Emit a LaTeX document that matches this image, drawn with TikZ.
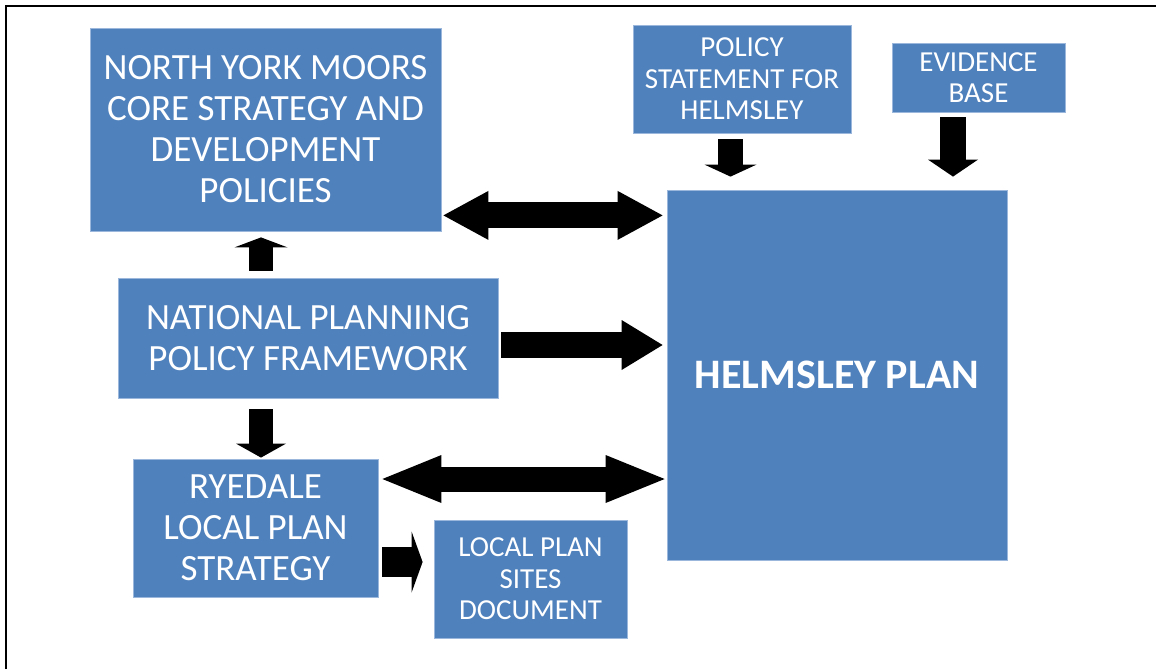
\documentclass[tikz,border=0pt]{standalone}
\usepackage{fontspec}
\setmainfont{Carlito}
\usetikzlibrary{arrows.meta,calc}
\definecolor{boxblue}{HTML}{4F81BD}
\definecolor{boxedge}{HTML}{9BB7DB}
\tikzset{
  blk/.style n args={3}{line width=#1, -{Triangle[length=#2,width=#3,line width=0pt]}}, % block arrow
  dbl/.style n args={3}{line width=#1, {Triangle[length=#2,width=#3,line width=0pt]}-{Triangle[length=#2,width=#3,line width=0pt]}} % double block arrow
}
\begin{document}
\begin{tikzpicture}[x=1pt,y=-1pt] % 1px = 1pt, y down
\tikzstyle{plan} = [rectangle, fill=boxblue, draw=boxedge, line width=0.8pt, text=white, align=center, inner sep=0pt] % document box
\tikzstyle{big} = [font=\fontsize{37}{41}\selectfont]
\tikzstyle{small} = [font=\fontsize{29}{31.5}\selectfont]

\useasboundingbox (0,0) rectangle (1156,669);
\draw[line width=2pt] (6,669) -- (6,6) -- (1156,6); % frame

\node[plan, big, minimum width=351, minimum height=203] (nym) at (265.5,129.5) {NORTH YORK MOORS\\CORE STRATEGY AND\\DEVELOPMENT\\POLICIES};
\node[plan, small, minimum width=218, minimum height=108] (pol) at (742,79) {POLICY\\STATEMENT FOR\\HELMSLEY};
\node[plan, small, minimum width=173, minimum height=69] (evid) at (978.5,77.5) {EVIDENCE\\BASE};
\node[plan, minimum width=340, minimum height=370, font=\fontsize{42}{48}\selectfont\bfseries] (helm) at (837,375) {HELMSLEY PLAN};
\node[plan, big, minimum width=380, minimum height=120] (nppf) at (308,338) {NATIONAL PLANNING\\POLICY FRAMEWORK};
\node[plan, big, minimum width=245, minimum height=138] (rye) at (255.5,528) {RYEDALE\\LOCAL PLAN\\STRATEGY};
\node[plan, small, minimum width=193, minimum height=118] (lps) at (530.5,579) {LOCAL PLAN\\SITES\\DOCUMENT};

\draw[dbl={26pt}{45pt}{49pt}] ($(nym.south east)+(2,-16)$) -- ($(nym.south east -| helm.west)+(-4,-16)$);
\draw[blk={26pt}{41pt}{50pt}] ($(nppf.east)+(3,7)$) -- ($(nppf.east -| helm.west)+(-4,7)$);
\draw[blk={24pt}{10pt}{53pt}] ($(nppf.north)+(-47,-7)$) -- ($(nppf.north |- nym.south)+(-47,6)$);
\draw[blk={24pt}{14pt}{50pt}] ($(nppf.south)+(-47,11)$) -- ($(nppf.south |- rye.north)+(-47,-1)$);
\draw[blk={25pt}{12pt}{52pt}] ($(pol.south)+(-11.5,6)$) -- ($(pol.south |- helm.north)+(-11.5,-13)$);
\draw[blk={26pt}{17pt}{50pt}] ($(evid.south)+(-25.5,5)$) -- ($(evid.south |- helm.north)+(-25.5,-13)$);
\draw[dbl={25pt}{59pt}{48pt}] ($(rye.east)+(4,-49)$) -- ($(rye.east -| helm.west)+(-2,-49)$);
\draw[blk={30pt}{11pt}{61pt}] ($(rye.east)+(4,34)$) -- ($(rye.east -| lps.west)+(-11,34)$);
\end{tikzpicture}
\end{document}
